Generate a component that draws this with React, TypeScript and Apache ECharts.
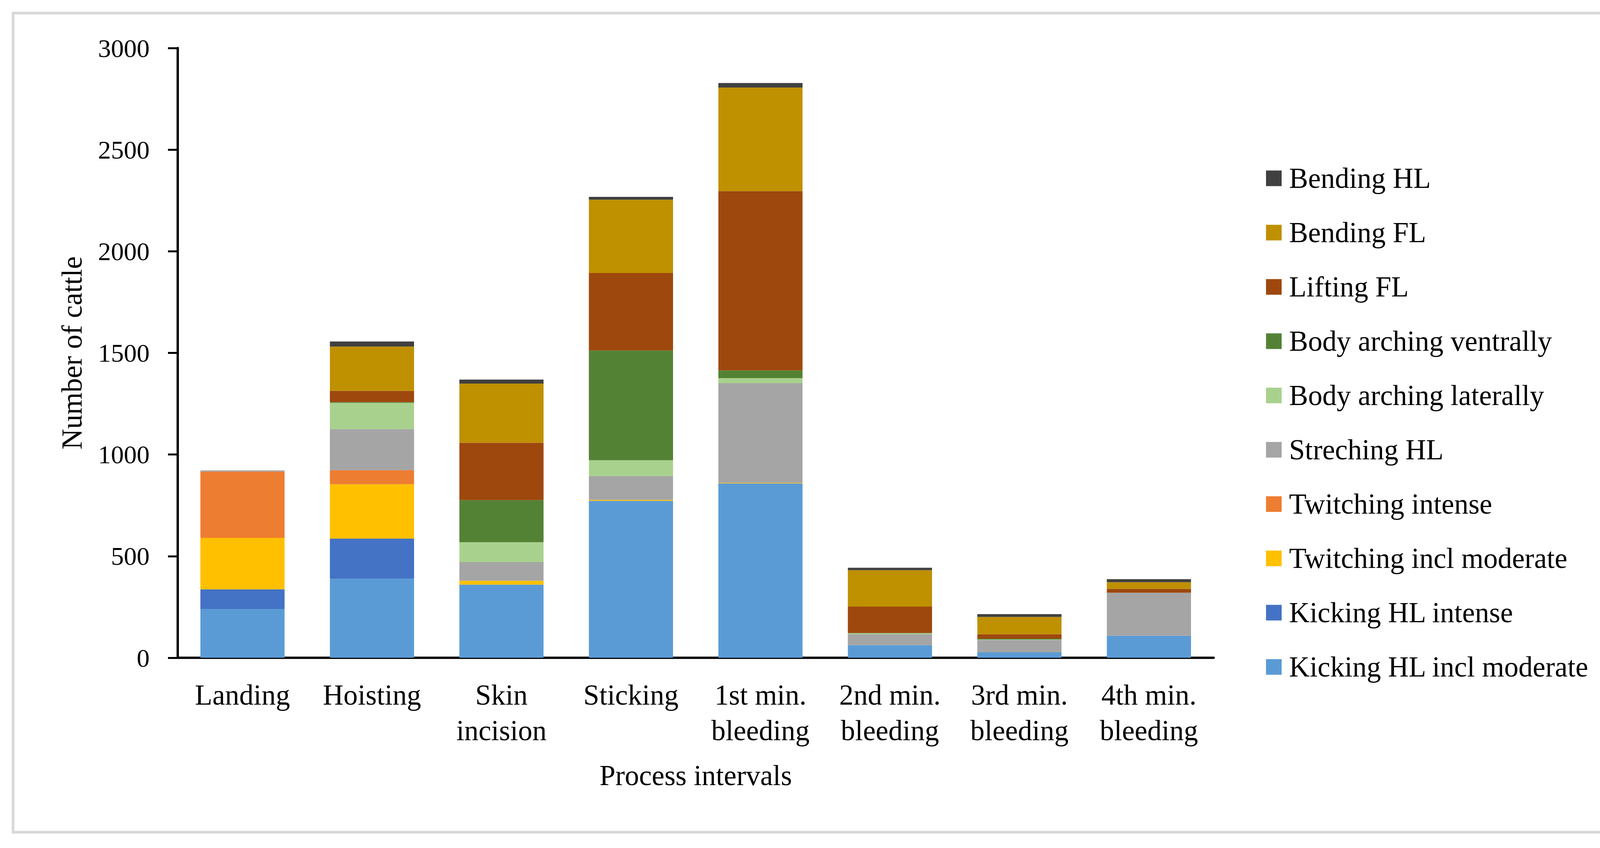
import React, { useEffect, useRef } from "react";
import * as echarts from "echarts";

const categories = [
  "Landing",
  "Hoisting",
  "Skin\nincision",
  "Sticking",
  "1st min.\nbleeding",
  "2nd min.\nbleeding",
  "3rd min.\nbleeding",
  "4th min.\nbleeding",
];

const yTicks = { min: 0, max: 3000, interval: 500 };

const seriesNames = [
  "Kicking HL incl moderate",
  "Kicking HL intense",
  "Twitching incl moderate",
  "Twitching intense",
  "Streching HL",
  "Body arching laterally",
  "Body arching ventrally",
  "Lifting FL",
  "Bending FL",
  "Bending HL",
];

const kickingModerate = [240, 390, 360, 772, 858, 62, 27, 108];
const kickingIntense = [97, 196, 0, 0, 0, 0, 0, 0];
const twitchingModerate = [253, 268, 19, 5, 3, 0, 0, 0];
const twitchingIntense = [326, 69, 0, 0, 0, 0, 0, 0];
const strechingHL = [6, 202, 92, 117, 490, 54, 61, 212];
const archingLaterally = [0, 129, 98, 78, 25, 4, 2, 0];
const archingVentrally = [0, 4, 207, 540, 38, 2, 4, 0];
const liftingFL = [0, 55, 282, 381, 882, 130, 22, 19];
const bendingFL = [0, 218, 291, 361, 510, 179, 85, 33];
const bendingHL = [0, 25, 20, 14, 22, 12, 14, 15];

const seriesValues = [
  kickingModerate,
  kickingIntense,
  twitchingModerate,
  twitchingIntense,
  strechingHL,
  archingLaterally,
  archingVentrally,
  liftingFL,
  bendingFL,
  bendingHL,
];

const seriesColors = [
  "#5B9BD5",
  "#4472C4",
  "#FFC000",
  "#ED7D31",
  "#A5A5A5",
  "#A9D18E",
  "#548235",
  "#9E480E",
  "#BF9000",
  "#404040",
];

const FONT = "'Liberation Serif', 'Times New Roman', serif";

export default function App() {
  const ref = useRef<HTMLDivElement>(null);

  useEffect(() => {
    if (!ref.current) return;
    const chart = echarts.init(ref.current, undefined, { renderer: "svg" });
    const option = {
      animation: false,
      backgroundColor: "#ffffff",
      textStyle: { fontFamily: FONT, color: "#000000" },
      grid: { left: 455, right: 1072, top: 123, bottom: 487, containLabel: false },
      legend: {
        orient: "vertical",
        left: 3236,
        top: 415,
        itemWidth: 40,
        itemHeight: 40,
        itemGap: 66,
        icon: "rect",
        data: [...seriesNames].reverse(),
        textStyle: {
          fontFamily: FONT,
          fontSize: 73,
          color: "#000000",
          lineHeight: 73,
          padding: [0, 0, 0, 14],
        },
      },
      xAxis: {
        type: "category",
        data: categories,
        name: "Process intervals",
        nameLocation: "middle",
        nameGap: 265,
        nameTextStyle: { fontFamily: FONT, fontSize: 73, color: "#000000" },
        axisLine: { show: true, lineStyle: { color: "#000000", width: 6 } },
        axisTick: { show: false },
        axisLabel: {
          fontFamily: FONT,
          fontSize: 73,
          color: "#000000",
          lineHeight: 91,
          margin: 50,
          interval: 0,
        },
      },
      yAxis: {
        type: "value",
        min: yTicks.min,
        max: yTicks.max,
        interval: yTicks.interval,
        name: "Number of cattle",
        nameLocation: "middle",
        nameGap: 234,
        nameTextStyle: { fontFamily: FONT, fontSize: 73, color: "#000000" },
        axisLine: { show: true, lineStyle: { color: "#000000", width: 6 } },
        axisTick: { show: true, length: 25, lineStyle: { color: "#000000", width: 5 } },
        axisLabel: {
          fontFamily: FONT,
          fontSize: 66,
          color: "#000000",
          margin: 72,
          formatter: (v: number) => String(v),
        },
        splitLine: { show: false },
      },
      graphic: [
        {
          type: "rect",
          shape: { x: 33.5, y: 33.5, width: 4110, height: 2097 },
          style: { fill: "none", stroke: "#d9d9d9", lineWidth: 7 },
          silent: true,
          z: -10,
        },
      ],
      series: seriesNames.map((name, i) => ({
        name,
        type: "bar",
        stack: "total",
        barCategoryGap: "35%",
        data: seriesValues[i],
        itemStyle: { color: seriesColors[i] },
      })),
    };
    chart.setOption(option);
    return () => chart.dispose();
  }, []);

  return (
    <div
      ref={ref}
      style={{ position: "absolute", left: 0, top: 0, width: 4179, height: 2171, background: "#ffffff" }}
    />
  );
}
